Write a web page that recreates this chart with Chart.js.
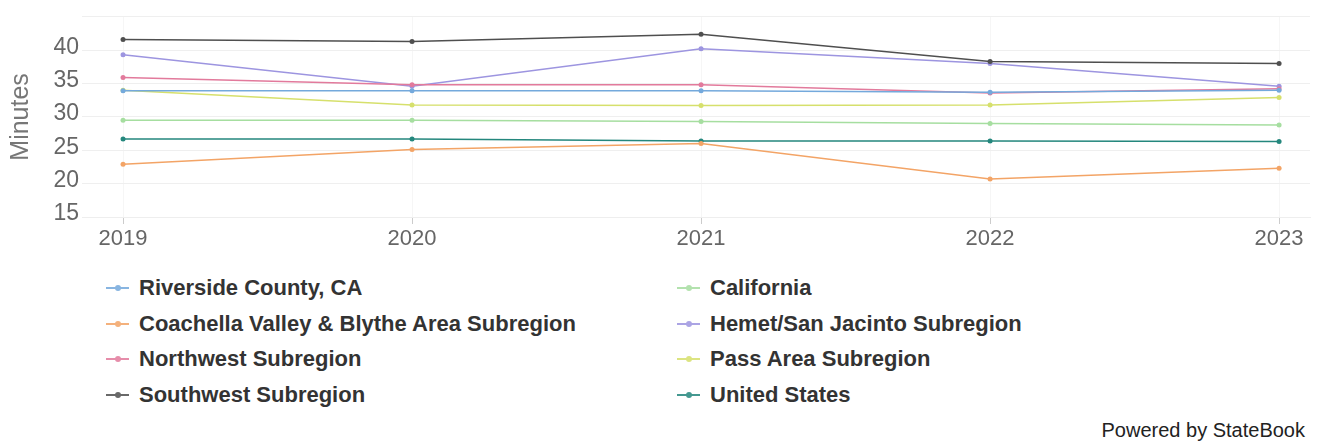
<!DOCTYPE html>
<html>
<head>
<meta charset="utf-8">
<title>Commute time</title>
<script src="https://cdn.jsdelivr.net/npm/chart.js@4.4.1/dist/chart.umd.min.js"></script>
<style>
  html, body { margin: 0; padding: 0; background: #fff; }
  body { width: 1331px; height: 448px; position: relative; overflow: hidden; font-family: "Liberation Sans", Arial, sans-serif; }
  #wrap { position: absolute; left: 0; top: 0; width: 1331px; height: 260px; }
  .leg { position: absolute; height: 30px; line-height: 30px; font-size: 22px; font-weight: bold; color: #333; white-space: nowrap; }
  .leg .mk { position: absolute; left: 0; top: 14px; width: 23px; height: 2px; opacity: 0.85; }
  .leg .mk i { position: absolute; left: 9px; top: -2px; width: 6px; height: 6px; border-radius: 3px; }
  .leg .tx { position: absolute; left: 33px; top: 0; }
  #credit { position: absolute; right: 26px; top: 419px; font-size: 20px; color: #222; }
</style>
</head>
<body>
<div id="wrap"><canvas id="chart"></canvas></div>
<div id="legend"></div>
<div id="credit">Powered by StateBook</div>
<script>
// years on the x axis
var years = [2019, 2020, 2021, 2022, 2023];

// average commute, minutes
var riverside  = [33.9, 33.9, 33.9, 33.7, 34.0];
var coachella  = [22.9, 25.1, 26.0, 20.7, 22.3];
var northwest  = [35.9, 34.8, 34.8, 33.6, 34.2];
var southwest  = [41.6, 41.3, 42.4, 38.3, 38.0];
var california = [29.5, 29.5, 29.3, 29.0, 28.8];
var hemet      = [39.3, 34.6, 40.2, 38.0, 34.6];
var passArea   = [34.0, 31.8, 31.7, 31.8, 32.9];
var unitedStates = [26.7, 26.7, 26.4, 26.4, 26.3];

var yTicks = [15, 20, 25, 30, 35, 40, 45];

var series = [
  { name: "Riverside County, CA", values: riverside, color: "#74a9dc" },
  { name: "Coachella Valley & Blythe Area Subregion", values: coachella, color: "#f3a466" },
  { name: "Northwest Subregion", values: northwest, color: "#e27a9c" },
  { name: "Southwest Subregion", values: southwest, color: "#4f4f4f" },
  { name: "California", values: california, color: "#a6dea0" },
  { name: "Hemet/San Jacinto Subregion", values: hemet, color: "#9d95e0" },
  { name: "Pass Area Subregion", values: passArea, color: "#d6e06c" },
  { name: "United States", values: unitedStates, color: "#24877d" }
];

var datasets = series.map(function(s) {
  return {
    label: s.name,
    data: s.values.map(function(v, i) { return { x: years[i], y: v }; }),
    borderColor: s.color,
    backgroundColor: s.color,
    borderWidth: 1.5,
    pointRadius: 2.5,
    pointBorderWidth: 0,
    tension: 0
  };
});

var ctx = document.getElementById("chart");
var chart = new Chart(ctx, {
  type: "line",
  data: { datasets: datasets },
  options: {
    responsive: true,
    maintainAspectRatio: false,
    animation: false,
    layout: { padding: { top: 12, right: 21, left: 0, bottom: 0 } },
    plugins: {
      legend: { display: false },
      tooltip: { enabled: false }
    },
    scales: {
      x: {
        type: "linear",
        min: 2018.858,
        max: 2023.107,
        afterBuildTicks: function(scale) {
          scale.ticks = years.map(function(y) { return { value: y }; });
        },
        afterFit: function(scale) { scale.height = 43; },
        ticks: {
          font: { family: "Liberation Sans", size: 22 },
          color: "#666",
          padding: 2,
          maxRotation: 0,
          callback: function(v) { return String(v); }
        },
        grid: { color: "rgba(0,0,0,0.035)", tickColor: "#ccc", tickLength: 7 },
        border: { color: "#eee" }
      },
      y: {
        min: 15,
        max: 45,
        afterBuildTicks: function(scale) {
          scale.ticks = yTicks.map(function(v) { return { value: v }; });
        },
        afterFit: function(scale) { scale.width = 82; },
        title: {
          display: true,
          text: "Minutes",
          font: { family: "Liberation Sans", size: 25 },
          color: "#777",
          padding: { top: 6, bottom: 0 }
        },
        ticks: {
          font: { family: "Liberation Sans", size: 23 },
          color: "#666",
          padding: 3,
          labelOffset: -3,
          callback: function(v) { return v === 45 ? "" : v; }
        },
        grid: { color: "#efefef", drawTicks: false },
        border: { display: false }
      }
    }
  }
});

// two-column legend under the plot
var legend = document.getElementById("legend");
series.forEach(function(s, i) {
  var col = Math.floor(i / 4), row = i % 4;
  var item = document.createElement("div");
  item.className = "leg";
  item.style.left = (col === 0 ? 106 : 677) + "px";
  item.style.top = (273 + row * 35.5) + "px";
  item.innerHTML = '<span class="mk" style="background:' + s.color + '"><i style="background:' + s.color + '"></i></span>' +
    '<span class="tx"></span>';
  item.querySelector(".tx").textContent = s.name;
  legend.appendChild(item);
});
</script>
</body>
</html>
